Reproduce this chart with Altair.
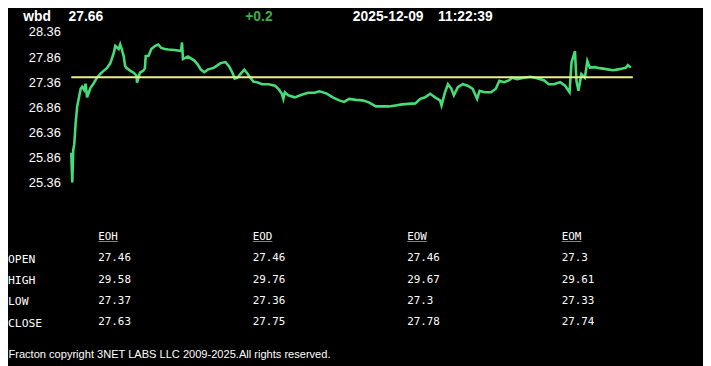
import altair as alt
import pandas as pd

# ---------------- header values ----------------
ticker = "wbd"
last_price = "27.66"
change_text = "+0.2"
date_text = "2025-12-09"
time_text = "11:22:39"
open_price = 27.46

# ---------------- intraday series ----------------
t_index = [0, 1, 2, 3, 4.5, 6, 8, 9.5, 11, 13,
           14.5, 16, 18, 19.5, 23, 26, 29.5, 33, 36, 39.5,
           43, 44.5, 48, 49.5, 51, 53, 54.5, 56, 59.5, 63,
           66, 66.5, 69.5, 73, 74.5, 75.3, 78, 81, 84.5, 88,
           91, 94.5, 98, 104.5, 111, 112, 113, 118, 124.5, 128,
           131, 134.5, 138, 144.5, 151, 156, 159.5, 163, 165.3, 168,
           171, 175, 178, 181, 184.5, 188, 193, 199.5, 206, 209.5,
           213, 214.5, 216, 219.5, 226, 233, 239.5, 246, 251, 258,
           264.5, 271, 276, 281, 288, 294.5, 301, 308, 314.5, 321,
           328, 334.5, 341, 348, 353, 358, 363, 368, 373, 374.5,
           378, 381, 384.5, 387, 391, 396, 401, 406, 410.5, 413,
           418, 424.5, 429.5, 433, 438, 443, 446, 451, 458, 464.5,
           471, 478, 483, 488, 494.5, 499.5, 504, 506, 509.5, 511,
           513, 516, 519.5, 522, 524.5, 529.5, 534.5, 541, 548, 554.5,
           561, 563, 566]
prices = [25.96, 25.37, 26.02, 26.12, 26.57, 26.88, 27.08, 27.23, 27.27, 27.21,
          27.33, 27.06, 27.17, 27.25, 27.35, 27.45, 27.53, 27.59, 27.64, 27.74,
          27.94, 28.08, 28.02, 28.11, 28.02, 27.88, 27.68, 27.64, 27.59, 27.55,
          27.49, 27.35, 27.55, 27.59, 27.64, 27.88, 27.88, 28.02, 28.08, 28.11,
          28.04, 28.02, 28.01, 28.00, 27.98, 28.15, 27.82, 27.87, 27.79, 27.71,
          27.61, 27.56, 27.61, 27.65, 27.74, 27.76, 27.68, 27.55, 27.43, 27.45,
          27.52, 27.61, 27.54, 27.45, 27.37, 27.36, 27.32, 27.32, 27.29, 27.23,
          27.13, 27.03, 27.16, 27.10, 27.06, 27.11, 27.15, 27.15, 27.18, 27.14,
          27.06, 27.00, 26.97, 27.03, 27.01, 27.00, 26.96, 26.88, 26.88, 26.88,
          26.90, 26.92, 26.93, 26.94, 27.03, 27.06, 27.13, 27.06, 27.00, 26.90,
          27.16, 27.32, 27.23, 27.10, 27.26, 27.32, 27.29, 27.23, 27.03, 27.19,
          27.16, 27.16, 27.23, 27.39, 27.36, 27.40, 27.45, 27.42, 27.45, 27.47,
          27.44, 27.40, 27.32, 27.32, 27.36, 27.29, 27.16, 27.75, 27.98, 27.39,
          27.19, 27.52, 27.45, 27.78, 27.65, 27.66, 27.64, 27.62, 27.60, 27.62,
          27.65, 27.70, 27.65]
t_domain = [0, 568]
y_domain = [25.26, 28.46]
y_ticks = [25.36, 25.86, 26.36, 26.86, 27.36, 27.86, 28.36]

# ---------------- table ----------------
table_rows = ["OPEN", "HIGH", "LOW", "CLOSE"]
table_cols = ["EOH", "EOD", "EOW", "EOM"]
eoh = [27.46, 29.58, 27.37, 27.63]
eod = [27.46, 29.76, 27.36, 27.75]
eow = [27.46, 29.67, 27.3, 27.78]
eom = [27.3, 29.61, 27.33, 27.74]

footer_text = "Fracton copyright 3NET LABS LLC 2009-2025.All rights reserved."

# ---------------- build ----------------
series = pd.DataFrame({"t": t_index, "price": prices})

cells = []
for c, vals in zip(table_cols, [eoh, eod, eow, eom]):
    for r, v in zip(table_rows, vals):
        cells.append({"col": c, "row": r, "label": str(v)})
cells_df = pd.DataFrame(cells)
hdr_df = pd.DataFrame({"col": table_cols, "row": ["hdr"] * 4, "label": table_cols})
rows_df = pd.DataFrame({"row": table_rows})

x_scale = alt.Scale(domain=t_domain, nice=False, zero=False)
y_scale = alt.Scale(domain=y_domain, nice=False, zero=False)
col_scale = alt.Scale(type="point", domain=table_cols, range=[27.3, 496], padding=0)
row_scale = alt.Scale(type="point", domain=["hdr"] + table_rows, range=[212.5, 298.8], padding=0)

SANS = "Liberation Sans"
MONO = "DejaVu Sans Mono"

line = alt.Chart(series).mark_line(color="#46dc78", strokeWidth=2.6).encode(
    x=alt.X("t:Q", scale=x_scale, axis=None),
    y=alt.Y("price:Q", scale=y_scale,
            axis=alt.Axis(values=y_ticks, format=".2f", domain=False, ticks=False,
                          tickSize=0, grid=False, labelPadding=11, labelColor="white",
                          labelFont=SANS, labelFontSize=13, title=None)),
)

rule = alt.Chart(pd.DataFrame({"open": [open_price]})).mark_rule(
    color="#eef08a", strokeWidth=2).encode(
    y=alt.Y("open:Q", scale=y_scale, axis=None),
)

table_txt = alt.Chart(pd.concat([cells_df, hdr_df])).mark_text(
    align="left", baseline="middle", font=MONO, fontSize=11, color="white").encode(
    x=alt.X("col:N", scale=col_scale, axis=None),
    y=alt.Y("row:N", scale=row_scale, axis=None),
    text="label:N",
)

underline = alt.Chart(hdr_df).mark_text(
    align="left", baseline="middle", font=MONO, fontSize=11, color="white", dy=-1).encode(
    x=alt.X("col:N", scale=col_scale, axis=None),
    y=alt.Y("row:N", scale=row_scale, axis=None),
    text=alt.value("___"),
)

row_labels = alt.Chart(rows_df).mark_text(
    align="left", baseline="middle", font=MONO, fontSize=11.5, color="white", dy=1.5).encode(
    x=alt.value(-64),
    y=alt.Y("row:N", scale=row_scale, axis=None),
    text="row:N",
)

def head(txt, xpos, color="white"):
    return alt.Chart(pd.DataFrame({"s": [txt]})).mark_text(
        align="left", baseline="alphabetic", font=SANS, fontSize=14,
        fontWeight="bold", color=color).encode(
        x=alt.value(xpos), y=alt.value(-6.3), text="s:N")

h1 = head(ticker, -48.5)
h2 = head(last_price, -2.8)
h3 = head(change_text, 176, "#3cb043")
h4 = head(date_text, 284.8)
h5 = head(time_text, 371)

footer = alt.Chart(pd.DataFrame({"s": [footer_text]})).mark_text(
    align="left", baseline="alphabetic", font=SANS, fontSize=11.2, color="white").encode(
    x=alt.value(-63.5), y=alt.value(334.5), text="s:N")

chart = alt.layer(line, rule, table_txt, underline, row_labels,
                  h1, h2, h3, h4, h5, footer).resolve_scale(
    x="independent", y="independent").properties(
    width=568, height=163,
    autosize=alt.AutoSizeParams(type="none"),
    padding={"left": 64, "top": 17, "right": 71, "bottom": 178},
    background="black",
).configure_view(stroke=None)

chart.save("out.html", embed_options={"renderer": "svg", "actions": False})
